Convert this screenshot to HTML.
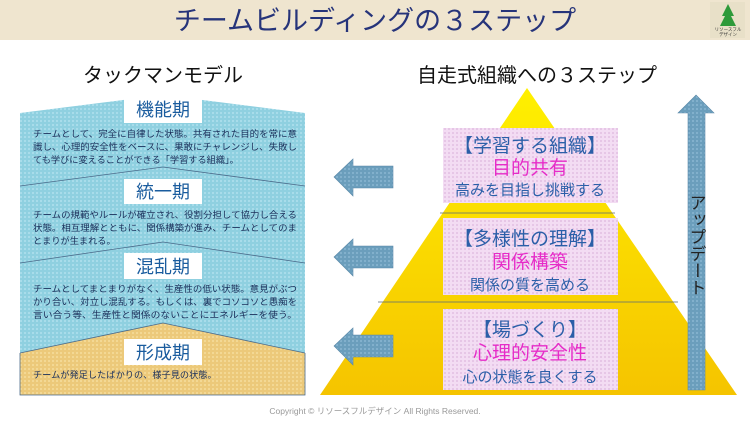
<!DOCTYPE html>
<html><head><meta charset="utf-8"><style>
html,body{margin:0;padding:0;background:#fff;}
svg{display:block;font-family:"Liberation Sans","Noto Sans CJK JP",sans-serif;}
</style></head><body>
<svg width="750" height="422" viewBox="0 0 750 422" xmlns="http://www.w3.org/2000/svg">
<defs>
<pattern id="dotb" width="4" height="4" patternUnits="userSpaceOnUse"><rect width="4" height="4" fill="#8fd0e0"/><rect width="2" height="2" fill="#a8dcea"/></pattern>
<pattern id="doty" width="4" height="4" patternUnits="userSpaceOnUse"><rect width="4" height="4" fill="#ecc97a"/><rect width="2" height="2" fill="#f3d894"/></pattern>
<pattern id="dotp" width="4" height="4" patternUnits="userSpaceOnUse"><rect width="4" height="4" fill="#f3dcf3"/><rect width="2" height="2" fill="#e6c6e6"/></pattern>
<pattern id="dota" width="4" height="4" patternUnits="userSpaceOnUse"><rect width="4" height="4" fill="#6b9ebc"/><rect width="2" height="2" fill="#82b0cc"/></pattern>
<linearGradient id="pyr" x1="0" y1="0" x2="0" y2="1"><stop offset="0" stop-color="#fff000"/><stop offset="1" stop-color="#f5c400"/></linearGradient>
</defs>
<rect x="0" y="0" width="750" height="40" fill="#efe5cf"/>
<text x="375" y="30" font-size="27" fill="#26347a" text-anchor="middle">チームビルディングの３ステップ</text>
<rect x="710" y="2" width="35" height="36" fill="#e8e0c8"/>
<polygon points="728,4 722,16 725,16 720,26 736,26 731,16 734,16" fill="#2e9a3a"/>
<text x="728" y="31" font-size="4.5" fill="#333" text-anchor="middle">リソースフル</text>
<text x="728" y="36" font-size="4.5" fill="#333" text-anchor="middle">デザイン</text>

<text x="163" y="82" font-size="20" fill="#111" text-anchor="middle">タックマンモデル</text>
<text x="537" y="82" font-size="20" fill="#111" text-anchor="middle">自走式組織への３ステップ</text>

<!-- left panel -->
<polygon points="20,113 163,95 305,113 305,186 163,167 20,186" fill="url(#dotb)"/>
<polygon points="20,186 163,167 305,186 305,263 163,242 20,263" fill="url(#dotb)"/>
<polygon points="20,263 163,242 305,263 305,353 163,323 20,353" fill="url(#dotb)"/>
<polygon points="20,353 163,323 305,353 305,395 20,395" fill="url(#doty)"/>
<g stroke="#4a6a8a" stroke-width="0.8" fill="none">
<polyline points="20,186 163,167 305,186"/>
<polyline points="20,263 163,242 305,263"/>
<polyline points="20,353 163,323 305,353"/>
<polyline points="20,353 20,395 305,395 305,353"/>
</g>
<g font-size="18" fill="#1a5c9e" text-anchor="middle">
<rect x="124" y="95" width="78" height="28" fill="#fff"/><text x="163" y="116">機能期</text>
<rect x="124" y="179" width="78" height="25" fill="#fff"/><text x="163" y="198">統一期</text>
<rect x="124" y="253" width="78" height="26" fill="#fff"/><text x="163" y="273">混乱期</text>
<rect x="124" y="339" width="78" height="26" fill="#fff"/><text x="163" y="359">形成期</text>
</g>
<g font-size="9.2" fill="#1a2f5a">
<text x="33" y="137" textLength="264" lengthAdjust="spacingAndGlyphs">チームとして、完全に自律した状態。共有された目的を常に意</text>
<text x="33" y="150" textLength="264" lengthAdjust="spacingAndGlyphs">識し、心理的安全性をベースに、果敢にチャレンジし、失敗し</text>
<text x="33" y="163">ても学びに変えることができる「学習する組織」。</text>
<text x="33" y="218" textLength="264" lengthAdjust="spacingAndGlyphs">チームの規範やルールが確立され、役割分担して協力し合える</text>
<text x="33" y="231" textLength="264" lengthAdjust="spacingAndGlyphs">状態。相互理解とともに、関係構築が進み、チームとしてのま</text>
<text x="33" y="244">とまりが生まれる。</text>
<text x="33" y="292" textLength="264" lengthAdjust="spacingAndGlyphs">チームとしてまとまりがなく、生産性の低い状態。意見がぶつ</text>
<text x="33" y="305" textLength="264" lengthAdjust="spacingAndGlyphs">かり合い、対立し混乱する。もしくは、裏でコソコソと愚痴を</text>
<text x="33" y="318" textLength="264" lengthAdjust="spacingAndGlyphs">言い合う等、生産性と関係のないことにエネルギーを使う。</text>
<text x="33" y="378">チームが発足したばかりの、様子見の状態。</text>
</g>

<!-- pyramid -->
<polygon points="527,88 737,395 320,395" fill="url(#pyr)"/>
<line x1="440" y1="213" x2="615" y2="213" stroke="#5a6a7a" stroke-width="0.8"/>
<line x1="378" y1="302" x2="678" y2="302" stroke="#5a6a7a" stroke-width="0.8"/>
<rect x="443" y="128" width="175" height="75" fill="url(#dotp)"/>
<rect x="443" y="218" width="175" height="77" fill="url(#dotp)"/>
<rect x="443" y="309" width="175" height="81" fill="url(#dotp)"/>
<g text-anchor="middle">
<text x="530" y="152" font-size="19" fill="#2b5fa8">【学習する組織】</text>
<text x="530" y="174" font-size="19" fill="#e62cc8">目的共有</text>
<text x="530" y="195" font-size="15" fill="#2b5fa8">高みを目指し挑戦する</text>
<text x="530" y="245" font-size="19" fill="#2b5fa8">【多様性の理解】</text>
<text x="530" y="268" font-size="19" fill="#e62cc8">関係構築</text>
<text x="530" y="290" font-size="15" fill="#2b5fa8">関係の質を高める</text>
<text x="530" y="336" font-size="19" fill="#2b5fa8">【場づくり】</text>
<text x="530" y="359" font-size="19" fill="#e62cc8">心理的安全性</text>
<text x="530" y="382" font-size="15" fill="#2b5fa8">心の状態を良くする</text>
</g>

<!-- left arrows -->
<g fill="url(#dota)" stroke="#5a88a8" stroke-width="0.6">
<polygon points="334,177 353,159 353,166 393,166 393,188 353,188 353,196"/>
<polygon points="334,257 353,239 353,246 393,246 393,268 353,268 353,276"/>
<polygon points="334,346 353,328 353,335 393,335 393,357 353,357 353,365"/>
</g>
<!-- update arrow -->
<polygon points="696,95 714,113 705,113 705,390 688,390 688,113 678,113" fill="url(#dota)" stroke="#5a88a8" stroke-width="0.6"/>
<text x="696" y="245" font-size="17" fill="#222" text-anchor="middle" style="writing-mode:vertical-rl" writing-mode="tb">アップデート</text>

<text x="375" y="414" font-size="8.5" fill="#999" text-anchor="middle">Copyright © リソースフルデザイン All Rights Reserved.</text>
</svg>
</body></html>
